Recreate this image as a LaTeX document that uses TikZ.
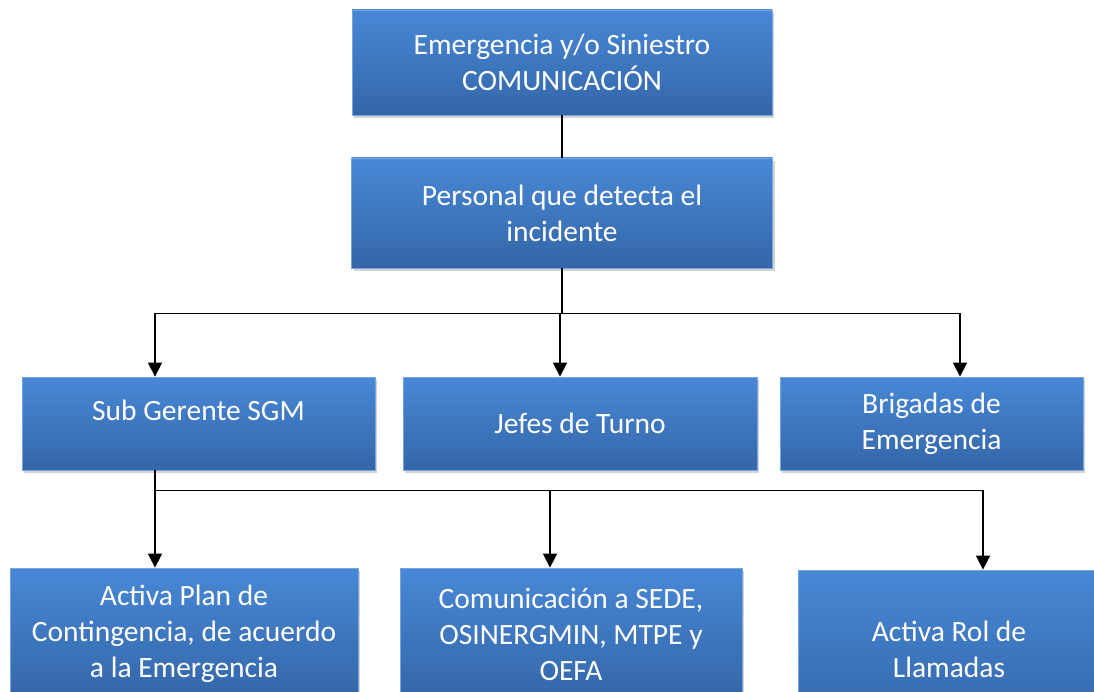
\documentclass[tikz,border=0pt]{standalone}
\usepackage{fontspec}
\setmainfont{Carlito}
\usepackage{xcolor}
\usetikzlibrary{arrows.meta, shadows, calc}

\definecolor{boxtop}{RGB}{72,136,214}
\definecolor{boxbot}{RGB}{52,102,168}
\definecolor{boxrim}{RGB}{118,166,226}

\begin{document}
\begin{tikzpicture}[x=1pt, y=-1pt,
    box/.style={rectangle, top color=boxtop, bottom color=boxbot,
      draw=boxrim, line width=0.8pt, text=white, align=center,
      font=\fontsize{29.5}{36}\selectfont, inner sep=0pt,
      drop shadow={shadow xshift=2pt, shadow yshift=-3pt, opacity=0.35}},
    link/.style={line width=1.6pt, black},
    arrow/.style={link, -{Triangle[width=14pt, length=14pt]}},
]
\useasboundingbox (0,0) rectangle (1094,692);
\clip (0,0) rectangle (1094,692);

% Top
\node[box, minimum width=420pt, minimum height=105pt] (emerg) at (562,62.5)
  {Emergencia y/o Siniestro\\COMUNICACIÓN};
\node[box, minimum width=421pt, minimum height=110pt] (personal) at (562,213)
  {Personal que detecta el\\incidente};

% Second row
\node[box, minimum width=353pt, minimum height=93pt] (subger) at (198.5,423.5)
  {Sub Gerente SGM\\[-10pt]\mbox{}};
\node[box, minimum width=354pt, minimum height=93pt] (jefes) at (580,423.5)
  {Jefes de Turno};
\node[box, minimum width=303pt, minimum height=93pt] (brig) at (931.5,423.5)
  {Brigadas de\\Emergencia};

% Third row
\node[box, minimum width=348pt, minimum height=132pt] (plan) at (184,634)
  {Activa Plan de\\Contingencia, de acuerdo\\a la Emergencia};
\node[box, minimum width=342pt, minimum height=132pt] (comun) at (571,634)
  {Comunicación a SEDE,\\OSINERGMIN, MTPE y\\OEFA};
\node[box, minimum width=302pt, minimum height=158pt] (rol) at (949,649)
  {Activa Rol de\\Llamadas};

% Connectors
\draw[link] (emerg.south) -- (personal.north);

\coordinate (busA) at ($(personal.south)+(0,45)$);
\draw[link] (personal.south) -- (busA);
\foreach \dest/\dx in {subger/-43.5, jefes/-20, brig/28.5} {
  \draw[arrow] (busA) -| ([xshift=\dx pt]\dest.north);
}

\coordinate (busB) at ($(subger.south)+(-43.5,20)$);
\draw[link] ([xshift=-43.5pt]subger.south) -- (busB);
\foreach \dest/\dx in {plan/-29, comun/-21, rol/34} {
  \draw[arrow] (busB) -| ([xshift=\dx pt]\dest.north);
}

\end{tikzpicture}
\end{document}
